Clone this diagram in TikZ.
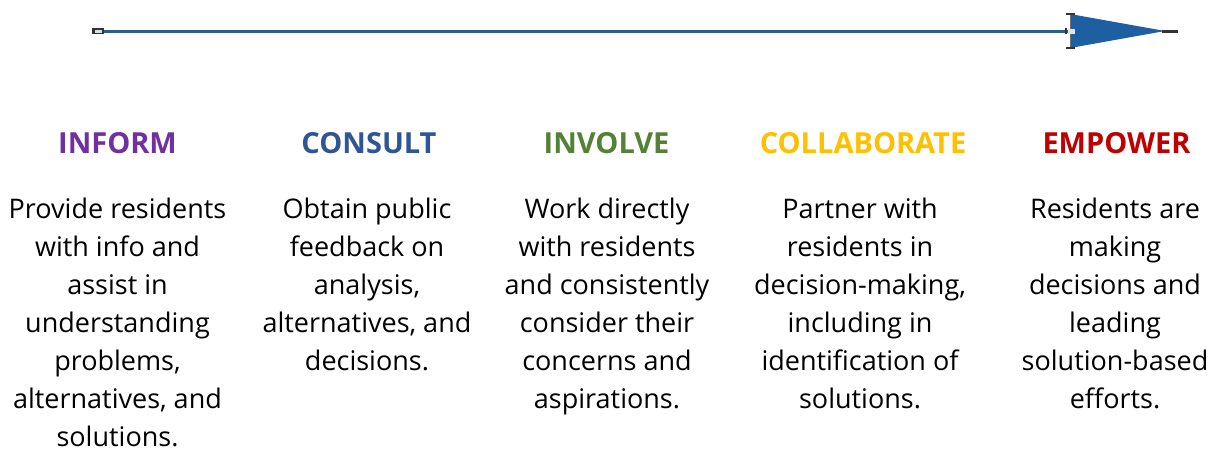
\documentclass[tikz,border=0pt]{standalone}
\usepackage{fontspec}
\setmainfont{Open Sans}
\definecolor{cinform}{HTML}{7030A0}
\definecolor{cconsult}{HTML}{2F5597}
\definecolor{cinvolve}{HTML}{548235}
\definecolor{ccollab}{HTML}{FFC000}
\definecolor{cempower}{HTML}{C00000}
\definecolor{arrowline}{HTML}{2C5F8E}
\definecolor{arrowhead}{HTML}{1E5FA2}
\definecolor{handle}{HTML}{333333}
\begin{document}
\begin{tikzpicture}[x=1pt,y=-1pt,
  title/.style={anchor=base,inner sep=0pt,font=\fontsize{29}{34}\selectfont\bfseries},
  body/.style={anchor=north,inner sep=0pt,align=center,font=\fontsize{27}{38}\selectfont,
    execute at begin node={\rule{0pt}{27pt}}},
  ]
\useasboundingbox (0,0) rectangle (1225,455);
% arrow
\coordinate (astart) at (98,31);
\coordinate (abase) at (1071,31);
\coordinate (atip) at (1165,31);
\coordinate (aend) at (1178,31);
\draw[arrowline,line width=3pt] (astart) -- (abase);
\fill[handle] (92,28) rectangle (104,34);
\fill[white!80!arrowline] (95,30) rectangle (102,32.5);
\fill[arrowhead] (1070,14) -- (1070,48) -- (atip) -- cycle;
\draw[handle,line width=3pt] (1162,31) -- (aend);
\draw[handle!70,line width=1pt] (1070,13) -- (1070,49);
\draw[handle,line width=1.6pt] (1066,14) -- (1075,14);
\draw[handle,line width=1.6pt] (1066,48) -- (1075,48);
\draw[handle,line width=1.6pt] (1066,28) -- (1066,34);
\fill[white!85!arrowline] (1068,28.5) rectangle (1075,33.5);
% titles
\node[title,text=cinform]  (t1) at (117.5,153) {INFORM};
\node[title,text=cconsult] (t2) at (369,153) {CONSULT};
\node[title,text=cinvolve] (t3) at (606.5,153) {INVOLVE};
\node[title,text=ccollab]  (t4) at (863,153) {COLLABORATE};
\node[title,text=cempower] (t5) at (1116.5,153) {EMPOWER};
% bodies
\node[body] (b1) at (117.5,198) {Provide residents\\with info and\\assist in\\understanding\\problems,\\alternatives, and\\solutions.};
\node[body] (b2) at (367,198) {Obtain public\\feedback on\\analysis,\\alternatives, and\\decisions.};
\node[body] (b3) at (607,198) {Work directly\\with residents\\and consistently\\consider their\\concerns and\\aspirations.};
\node[body] (b4) at (860,198) {Partner with\\residents in\\decision-making,\\including in\\identification of\\solutions.};
\node[body] (b5) at (1115,198) {Residents are\\making\\decisions and\\leading\\solution-based\\efforts.};
\end{tikzpicture}
\end{document}
